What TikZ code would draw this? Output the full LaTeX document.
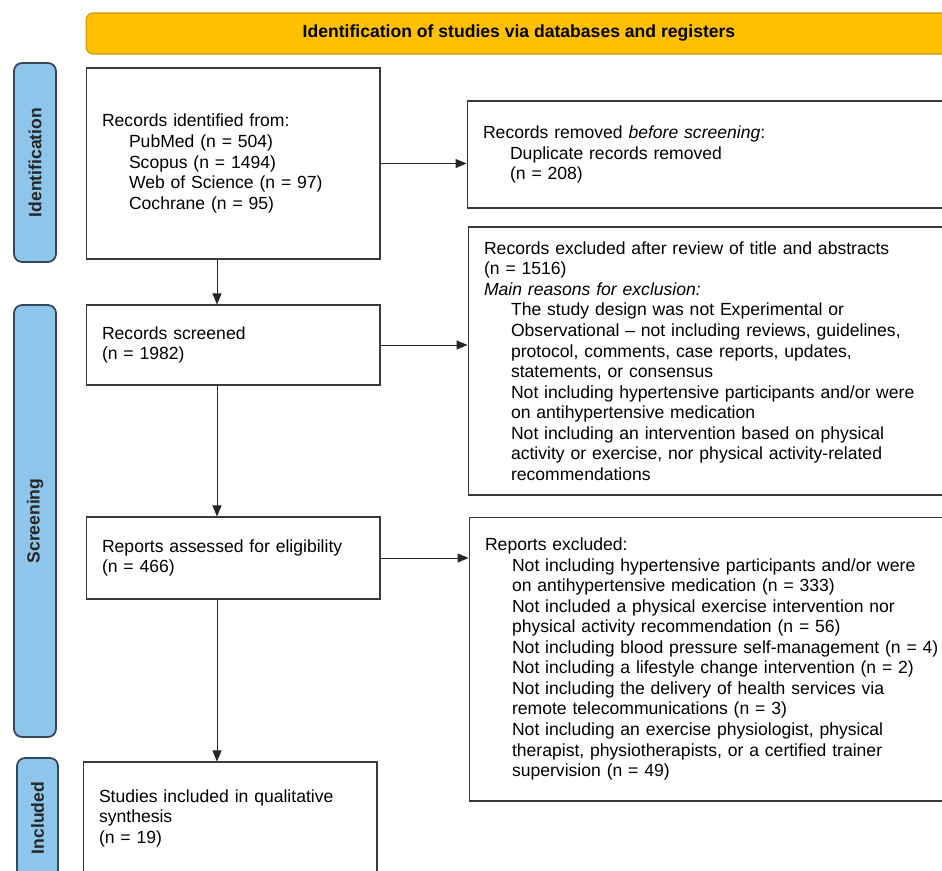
\documentclass[tikz,border=0pt]{standalone}
\usepackage{fontspec}
\setmainfont{Liberation Sans}
\usepackage{tikz}
\usetikzlibrary{arrows.meta, positioning, calc}

\definecolor{headgold}{HTML}{FFC000}
\definecolor{headedge}{HTML}{C89600}
\definecolor{phaseblue}{HTML}{8EC5EA}
\definecolor{phaseedge}{HTML}{34465A}
\definecolor{boxedge}{HTML}{3A3A3A}

\newcommand{\subln}{\hspace*{0.54cm}}

\tikzset{
    header/.style={draw=headedge, fill=headgold, line width=0.6pt, rounded corners=0.14cm,
        minimum width=17.32cm, minimum height=0.82cm, font=\bfseries\fontsize{10}{12}\selectfont},
    phase/.style={draw=phaseedge, fill=phaseblue, line width=1pt, rounded corners=0.16cm,
        rotate=90, minimum height=0.84cm, font=\bfseries\fontsize{10}{12}\selectfont, text=black!85},
    stagebox/.style={draw=boxedge, line width=0.6pt, align=left, inner xsep=0.32cm,
        text width=5.24cm, font=\fontsize{10}{11.7}\selectfont},
    sidebox/.style={stagebox, text width=9.8cm},
    arr/.style={draw=black!85, line width=0.55pt, -{Triangle[length=0.22cm, width=0.18cm]}}
}

\begin{document}
\begin{tikzpicture}[x=0.02cm, y=-0.02cm]
    \clip (0,0) rectangle (942,871);

    \node[header] (head) at (519,33.5) {Identification of studies via databases and registers};

    % phases
    \node[phase, minimum width=3.98cm] (phIdent) at (35,162.5) {Identification};
    \node[phase, minimum width=8.64cm] (phScreen) at (35,521) {Screening};
    \node[phase, minimum width=2.4cm, minimum height=0.82cm] (phIncl) at (37.5,818) {Included};

    % main column
    \node[stagebox, minimum height=3.82cm] (ident) at (233,163.5) {Records identified from:\\
        \subln PubMed (n = 504)\\
        \subln Scopus (n = 1494)\\
        \subln Web of Science (n = 97)\\
        \subln Cochrane (n = 95)};
    \node[stagebox, minimum height=1.6cm] (screened) at (233,345) {Records screened\\
        (n = 1982)};
    \node[stagebox, minimum height=1.64cm] (assessed) at (233,558) {Reports assessed for eligibility\\
        (n = 466)};
    \node[stagebox, minimum height=2.24cm] (included) at (230,818) {Studies included in qualitative\\
        synthesis\\
        (n = 19)};

    % side column
    \node[sidebox, minimum height=2.14cm] (removed) at (728,154.5) {Records removed \textit{before screening}:\\
        \subln Duplicate records removed\\
        \subln (n = 208)};
    \node[sidebox, minimum height=5.36cm] (excluded) at (729,361) {Records excluded after review of title and abstracts\\
        (n = 1516)\\
        \textit{Main reasons for exclusion:}\\
        \subln The study design was not Experimental or\\
        \subln Observational -- not including reviews, guidelines,\\
        \subln protocol, comments, case reports, updates,\\
        \subln statements, or consensus\\
        \subln Not including hypertensive participants and/or were\\
        \subln on antihypertensive medication\\
        \subln Not including an intervention based on physical\\
        \subln activity or exercise, nor physical activity-related\\
        \subln recommendations};
    \node[sidebox, minimum height=5.68cm] (rexcluded) at (730,659) {Reports excluded:\\
        \subln Not including hypertensive participants and/or were\\
        \subln on antihypertensive medication (n = 333)\\
        \subln Not included a physical exercise intervention nor\\
        \subln physical activity recommendation (n = 56)\\
        \subln Not including blood pressure self-management (n = 4)\\
        \subln Not including a lifestyle change intervention (n = 2)\\
        \subln Not including the delivery of health services via\\
        \subln remote telecommunications (n = 3)\\
        \subln Not including an exercise physiologist, physical\\
        \subln therapist, physiotherapists, or a certified trainer\\
        \subln supervision (n = 49)};

    % arrows
    \coordinate (spine) at (217,0);
    \draw[arr] (ident.south -| spine) -- (screened.north -| spine);
    \draw[arr] (screened.south -| spine) -- (assessed.north -| spine);
    \draw[arr] (assessed.south -| spine) -- (included.north -| spine);
    \draw[arr] (ident.east) -- (ident.east -| removed.west);
    \draw[arr] (screened.east) -- (screened.east -| excluded.west);
    \draw[arr] (assessed.east) -- (assessed.east -| rexcluded.west);
\end{tikzpicture}
\end{document}
